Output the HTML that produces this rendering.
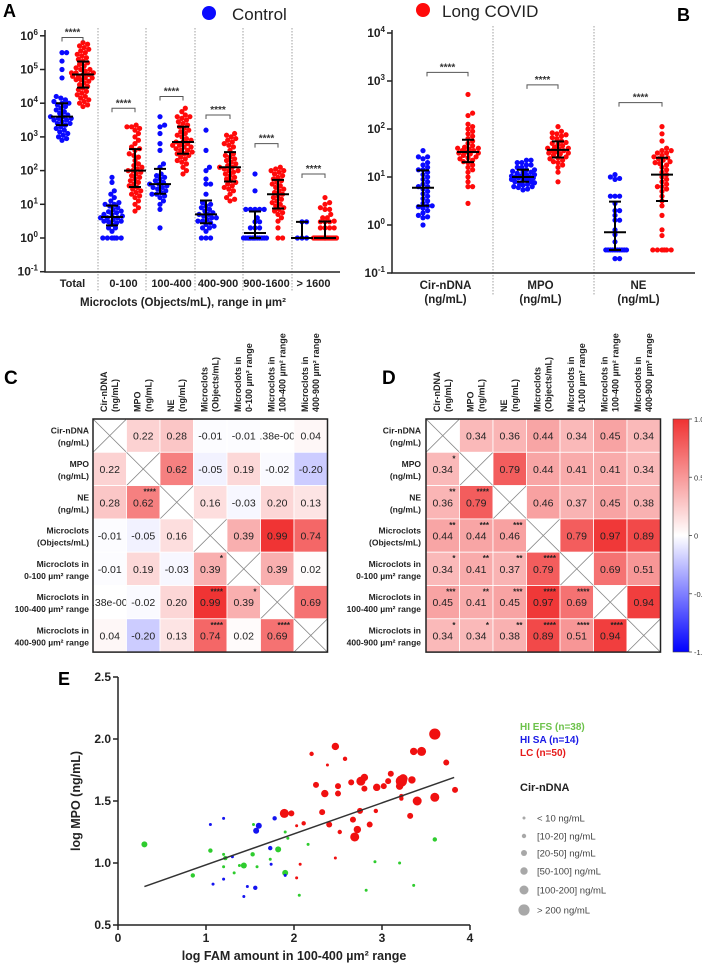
<!DOCTYPE html>
<html><head><meta charset="utf-8"><style>
html,body{margin:0;padding:0;background:#fff;}
svg{display:block;font-family:"Liberation Sans",Arial,sans-serif;}
</style></head><body>
<svg id="fig" width="702" height="966" viewBox="0 0 702 966" xmlns="http://www.w3.org/2000/svg">
<defs>
<linearGradient id="cbar" x1="0" y1="0" x2="0" y2="1">
<stop offset="0" stop-color="#f03232"/><stop offset="0.5" stop-color="#ffffff"/><stop offset="1" stop-color="#0000ff"/>
</linearGradient>
</defs>
<g>
<circle cx="209" cy="13" r="7" fill="#0a0aff"/>
<text x="232" y="20" font-size="17" fill="#222">Control</text>
<circle cx="423" cy="10" r="7" fill="#ff0a0a"/>
<text x="442" y="17" font-size="17" fill="#222">Long COVID</text>
</g>
<text x="3" y="17" font-size="18" font-weight="bold">A</text>
<text x="677" y="21" font-size="18" font-weight="bold">B</text>
<text x="4" y="384" font-size="19" font-weight="bold">C</text>
<text x="382" y="384" font-size="19" font-weight="bold">D</text>
<text x="58" y="685" font-size="18" font-weight="bold">E</text>
</svg>
<script>
// ---------- Panel A data (log10 of objects/mL) ----------
const aCategories = ["Total","0-100","100-400","400-900","900-1600","> 1600"];
const aControl = [
 [5.5,5.5,5.25,5.0,4.75,4.2,4.1,4.15,4.05,4.0,4.0,3.95,3.9,3.85,3.8,3.75,3.7,3.65,3.6,3.6,3.55,3.55,3.5,3.5,3.45,3.4,3.4,3.35,3.3,3.25,3.2,3.15,3.1,3.05,3.0,2.95,2.9],
 [1.8,1.65,1.4,1.3,1.2,1.1,1.05,1.0,1.0,0.95,0.9,0.85,0.8,0.78,0.75,0.7,0.7,0.65,0.6,0.6,0.6,0.55,0.5,0.5,0.48,0.45,0.4,0.3,0.3,0.2,0,0,0,0,0,0],
 [3.6,3.35,3.3,3.1,2.8,2.6,2.2,2.1,1.9,1.85,1.8,1.75,1.7,1.65,1.6,1.6,1.55,1.5,1.5,1.45,1.4,1.35,1.3,1.3,1.25,1.2,1.1,1.0,0.85,0.3],
 [3.2,2.6,2.1,2.0,1.75,1.6,1.6,1.3,1.05,1.0,0.95,0.9,0.85,0.8,0.75,0.7,0.7,0.65,0.6,0.6,0.55,0.5,0.5,0.45,0.4,0.35,0.3,0.3,0.2,0,0,0],
 [1.9,1.4,0.85,0.85,0.85,0.85,0.85,0.6,0.48,0.48,0.3,0.3,0.3,0,0,0,0,0,0,0,0,0,0,0,0,0],
 [0.48,0.48,0,0,0]
];
const aLongCovid = [
 [5.8,5.75,5.7,5.65,5.6,5.55,5.5,5.45,5.4,5.35,5.3,5.25,5.2,5.15,5.1,5.05,5.0,4.95,4.9,4.9,4.85,4.85,4.8,4.8,4.75,4.75,4.7,4.65,4.6,4.55,4.5,4.45,4.4,4.35,4.3,4.25,4.2,4.15,4.1,4.05,4.0,3.95,3.9,4.9,5.0,4.7],
 [3.35,3.3,3.3,3.25,3.2,3.1,3.0,2.9,2.8,2.7,2.65,2.6,2.5,2.45,2.4,2.3,2.2,2.15,2.1,2.05,2.0,2.0,1.95,1.9,1.85,1.8,1.75,1.7,1.65,1.6,1.55,1.5,1.45,1.4,1.35,1.3,1.25,1.2,1.1,1.0,0.9,0.8],
 [3.85,3.75,3.65,3.6,3.6,3.55,3.5,3.45,3.4,3.35,3.3,3.25,3.2,3.15,3.1,3.05,3.0,2.95,2.9,2.85,2.8,2.75,2.7,2.7,2.65,2.6,2.55,2.5,2.45,2.4,2.35,2.3,2.25,2.2,2.1,2.0,1.9,2.75,2.85,2.6,2.5],
 [3.1,3.05,3.0,2.95,2.9,2.85,2.8,2.75,2.7,2.6,2.5,2.45,2.4,2.35,2.3,2.25,2.2,2.15,2.1,2.1,2.05,2.0,2.0,1.95,1.9,1.85,1.8,1.75,1.7,1.65,1.6,1.55,1.5,1.45,1.4,1.3,1.2,1.15,1.1],
 [2.1,2.05,2.0,2.0,1.95,1.9,1.85,1.8,1.75,1.7,1.65,1.6,1.55,1.5,1.45,1.4,1.35,1.3,1.25,1.2,1.15,1.1,1.05,1.0,0.95,0.9,0.85,0.8,0.75,0.7,0.6,0.5,0.3,0,0],
 [1.2,1.05,1.0,0.9,0.85,0.85,0.7,0.6,0.6,0.5,0.48,0.48,0.48,0.3,0.3,0.3,0.3,0,0,0,0,0,0,0,0,0,0,0,0,0,0,0,0,0,0,0,0,0,0]
];
const aTickExps = [-1,0,1,2,3,4,5,6];
const aSigLevels = [5.95,3.85,4.2,3.65,2.8,1.9];
// ---------- Panel B data (log10 ng/mL) ----------
const bCategories = [["Cir-nDNA","(ng/mL)"],["MPO","(ng/mL)"],["NE","(ng/mL)"]];
const bControl = [
 [1.55,1.42,1.42,1.38,1.3,1.25,1.2,1.15,1.15,1.1,1.05,1.0,0.95,0.9,0.85,0.8,0.8,0.75,0.7,0.65,0.6,0.55,0.5,0.45,0.4,0.4,0.38,0.35,0.3,0.25,0.2,0.17,0.15,0.0],
 [1.35,1.35,1.3,1.3,1.25,1.25,1.2,1.2,1.15,1.15,1.12,1.1,1.1,1.08,1.05,1.05,1.02,1.02,1.0,1.0,1.0,0.98,0.98,0.95,0.95,0.93,0.9,0.9,0.88,0.85,0.85,0.83,0.8,0.8,0.78,0.75,0.73],
 [1.05,1.0,0.97,0.95,0.6,0.6,0.6,0.45,0.3,0.3,0.2,0.1,0.1,-0.1,-0.2,-0.35,-0.52,-0.52,-0.52,-0.52,-0.52,-0.52,-0.52,-0.52,-0.52,-0.52,-0.7,-0.7]
];
const bLongCovid = [
 [2.72,2.33,2.28,2.1,2.05,2.0,1.95,1.9,1.85,1.8,1.75,1.7,1.65,1.62,1.6,1.6,1.58,1.55,1.55,1.52,1.5,1.5,1.48,1.45,1.42,1.4,1.38,1.35,1.32,1.3,1.25,1.2,1.15,1.1,1.0,0.9,0.8,0.8,0.45],
 [2.05,1.95,1.92,1.9,1.88,1.85,1.82,1.8,1.75,1.72,1.7,1.68,1.65,1.62,1.6,1.6,1.58,1.55,1.55,1.52,1.5,1.5,1.48,1.45,1.42,1.4,1.38,1.35,1.32,1.3,1.25,1.2,1.1,0.9],
 [2.05,1.9,1.75,1.6,1.55,1.55,1.5,1.5,1.45,1.42,1.4,1.38,1.35,1.32,1.3,1.28,1.25,1.2,1.15,1.1,1.05,1.0,0.95,0.9,0.85,0.8,0.8,0.75,0.7,0.6,0.5,0.4,0.2,-0.1,-0.22,-0.52,-0.52,-0.52,-0.52,-0.52,-0.52]
];
const bTickExps = [-1,0,1,2,3,4];
const bSigLevels = [3.18,2.92,2.55];
// ---------- Panels C / D ----------
const corrLabels = [["Cir-nDNA","(ng/mL)"],["MPO","(ng/mL)"],["NE","(ng/mL)"],["Microclots","(Objects/mL)"],["Microclots in","0-100 µm² range"],["Microclots in","100-400 µm² range"],["Microclots in","400-900 µm² range"]];
const corrC = [
 [null,0.22,0.28,-0.01,-0.01,3.38e-5,0.04],
 [0.22,null,0.62,-0.05,0.19,-0.02,-0.20],
 [0.28,0.62,null,0.16,-0.03,0.20,0.13],
 [-0.01,-0.05,0.16,null,0.39,0.99,0.74],
 [-0.01,0.19,-0.03,0.39,null,0.39,0.02],
 [3.38e-5,-0.02,0.20,0.99,0.39,null,0.69],
 [0.04,-0.20,0.13,0.74,0.02,0.69,null]
];
const starsC = [
 ["","","","","","",""],["","","","","","",""],["","****","","","","",""],["","","","","","",""],
 ["","","","*","","",""],["","","","****","*","",""],["","","","****","","****",""]
];
const corrD = [
 [null,0.34,0.36,0.44,0.34,0.45,0.34],
 [0.34,null,0.79,0.44,0.41,0.41,0.34],
 [0.36,0.79,null,0.46,0.37,0.45,0.38],
 [0.44,0.44,0.46,null,0.79,0.97,0.89],
 [0.34,0.41,0.37,0.79,null,0.69,0.51],
 [0.45,0.41,0.45,0.97,0.69,null,0.94],
 [0.34,0.34,0.38,0.89,0.51,0.94,null]
];
const starsD = [
 ["","","","","","",""],["*","","","","","",""],["**","****","","","","",""],["**","***","***","","","",""],
 ["*","**","**","****","","",""],["***","**","***","****","****","",""],["*","*","**","****","****","****",""]
];
const cbarTicks = [1.0,0.5,0,-0.5,-1.0];
// ---------- Panel E ----------
const eGroups = ["HI EFS (n=38)","HI SA (n=14)","LC (n=50)"];
const eX_efs = [0.3,0.85,1.05,1.2,1.22,1.2,1.32,1.38,1.43,1.53,1.54,1.58,1.73,1.82,1.9,1.9,1.93,2.06,2.16,2.82,2.92,3.2,3.36,3.6];
const eY_efs = [1.15,0.9,1.1,1.07,1.04,0.97,0.92,0.98,0.98,1.07,1.31,0.97,1.03,1.11,1.25,0.92,1.2,0.74,1.15,0.78,1.01,1.0,0.82,1.19];
const eS_efs = [2,1,1,0,1,0,0,0,2,1,0,0,0,2,0,2,0,0,0,0,0,0,0,1];
const eX_sa = [1.05,1.08,1.2,1.2,1.3,1.43,1.47,1.56,1.57,1.6,1.73,1.74,1.78,1.9];
const eY_sa = [1.31,0.83,1.36,0.87,1.05,0.73,0.81,0.8,1.26,1.3,1.12,0.99,1.36,0.9];
const eS_sa = [0,0,0,0,0,0,0,1,2,2,1,0,1,0];
const eX_lc = [1.89,1.97,2.03,2.03,2.07,2.11,2.2,2.25,2.32,2.35,2.38,2.4,2.47,2.47,2.5,2.5,2.52,2.58,2.65,2.67,2.69,2.72,2.75,2.76,2.8,2.8,2.86,2.93,2.94,3.02,3.07,3.1,3.2,3.22,3.24,3.22,3.22,3.32,3.34,3.36,3.4,3.45,3.6,3.6,3.73,3.83];
const eY_lc = [1.4,1.4,1.3,0.88,0.99,1.32,1.88,1.63,1.41,1.56,1.79,1.31,1.94,1.04,1.56,1.62,1.25,1.84,1.65,1.35,1.21,1.27,1.42,1.66,1.69,1.6,1.31,1.42,1.61,1.62,1.66,1.72,1.62,1.66,1.68,1.52,1.54,1.38,1.67,1.9,1.5,1.9,2.04,1.53,1.81,1.59];
const eS_lc = [4,2,0,0,0,1,1,2,2,3,0,2,3,0,2,2,1,1,2,2,4,3,2,4,3,2,2,1,3,2,2,2,3,5,4,1,1,2,3,3,4,4,5,4,2,2];
const fitX = [0.3,3.82];
const fitY = [0.81,1.69];
const sizeLabels = ["< 10 ng/mL","[10-20] ng/mL","[20-50] ng/mL","[50-100] ng/mL","[100-200] ng/mL","> 200 ng/mL"];
const eXTicks = [0,1,2,3,4];
const eYTicks = [0.5,1.0,1.5,2.0,2.5];

const svg = document.getElementById('fig');
const NS = "http://www.w3.org/2000/svg";
function mk(tag, attrs, parent){ const e=document.createElementNS(NS,tag); for(const k in attrs) e.setAttribute(k,attrs[k]); (parent||svg).appendChild(e); return e; }
const BLUE="#0a0aff", RED="#ff0a0a";

function quant(arr,p){ const s=[...arr].sort((a,b)=>a-b); const i=(s.length-1)*p; const lo=Math.floor(i), hi=Math.ceil(i); return s[lo]+(s[hi]-s[lo])*(i-lo); }

function swarm(g, vals, cx, yfn, color, r, name){
  const placed=[];
  const sorted=[...vals].sort((a,b)=>a-b);
  const maxOff=12.5, minD=2*r-0.9;
  sorted.forEach(v=>{
    const y=yfn(v); let best=cx, bestD=-1;
    for(let k=0;k<=22;k++){
      const off=(k%2?1:-1)*Math.ceil(k/2)*1.15;
      if(Math.abs(off)>maxOff) continue;
      const tx=cx+off;
      let d=Infinity; placed.forEach(p=>{ d=Math.min(d,Math.hypot(p[0]-tx,p[1]-y)); });
      if(d>=minD){best=tx;bestD=d;break;}
      if(d>bestD){bestD=d;best=tx;}
    }
    placed.push([best,y]);
    const c=mk('circle',{cx:best.toFixed(2),cy:y.toFixed(2),r:r,fill:color},g);
    
    
  });
}
function errbar(g, vals, cx, yfn, name){
  const med=quant(vals,0.5), q1=quant(vals,0.25), q3=quant(vals,0.75);
  const y1=yfn(q1), y3=yfn(q3), ym=yfn(med);
  const p=mk('path',{d:`M${cx},${y3}V${y1}M${cx-6},${y3}H${cx+6}M${cx-6},${y1}H${cx+6}M${cx-11},${ym}H${cx+11}`,stroke:"#000","stroke-width":2,fill:"none"},g);
  
  
}
function sig(g, x1, x2, y, name){
  const p=mk('path',{d:`M${x1},${y+4}V${y}H${x2}V${y+4}`,stroke:"#555","stroke-width":1,fill:"none"},g);
  
  
  const t=mk('text',{x:(x1+x2)/2,y:y-2,"text-anchor":"middle","font-size":10,"font-weight":"bold",fill:"#333"},g);
  t.textContent="****";
  
  
}
function powLabel(g, x, y, e, name){
  const t=mk('text',{x:x,y:y,"text-anchor":"end","font-size":12,"font-weight":"bold",fill:"#222"},g);
  const a=document.createElementNS(NS,'tspan'); a.textContent="10"; t.appendChild(a);
  const b=document.createElementNS(NS,'tspan'); b.setAttribute('dy','-5'); b.setAttribute('font-size','8'); b.textContent=String(e); t.appendChild(b);
  
  
}

// ---------- Panel A ----------
(function(){
  const g=mk('g',{});  
  const yA=v=>238-v*33.7;
  const blueX=[62,112,160,206,255,302], redX=[83,135,183,230,278,325];
  const divX=[98,146,195,243,292];
  divX.forEach(x=>{ const l=mk('line',{x1:x,y1:28,x2:x,y2:292,stroke:"#888","stroke-width":0.8,"stroke-dasharray":"1.5,1.5"},g);
      });
  const ax=mk('path',{d:"M45,30V272H340",stroke:"#222","stroke-width":1.5,fill:"none"},g);
   
  aTickExps.forEach(e=>{ const y=yA(e);
    const t=mk('line',{x1:40,y1:y,x2:45,y2:y,stroke:"#222","stroke-width":1.5},g);
     
    powLabel(g,38,y+4,e,'y-tick-label'); });
  aCategories.forEach((c,i)=>{
    swarm(g,aControl[i],blueX[i],yA,BLUE,2.6,'control-point');
    swarm(g,aLongCovid[i],redX[i],yA,RED,2.6,'long-covid-point');
    errbar(g,aControl[i],blueX[i],yA,'control-median-iqr');
    errbar(g,aLongCovid[i],redX[i],yA,'long-covid-median-iqr');
    sig(g,blueX[i],redX[i],yA(aSigLevels[i]),'significance-bracket');
    const cx=(blueX[i]+redX[i])/2;
    const t=mk('text',{x:cx,y:287,"text-anchor":"middle","font-size":11,"font-weight":"bold",fill:"#222"},g);
    t.textContent=c;  
  });
  const xt=mk('text',{x:183,y:306,"text-anchor":"middle","font-size":11.5,"font-weight":"bold",fill:"#222"},g);
  xt.textContent="Microclots (Objects/mL), range in µm²";
   
})();

// ---------- Panel B ----------
(function(){
  const g=mk('g',{});  
  const yB=v=>225-v*48;
  const blueX=[423,523,615], redX=[468,558,662];
  [493,594].forEach(x=>{ const l=mk('line',{x1:x,y1:26,x2:x,y2:296,stroke:"#888","stroke-width":0.8,"stroke-dasharray":"1.5,1.5"},g);
      });
  const ax=mk('path',{d:"M392,30V273H695",stroke:"#222","stroke-width":1.5,fill:"none"},g);
   
  bTickExps.forEach(e=>{ const y=yB(e);
    const t=mk('line',{x1:387,y1:y,x2:392,y2:y,stroke:"#222","stroke-width":1.5},g);
     
    powLabel(g,385,y+4,e,'y-tick-label'); });
  bCategories.forEach((c,i)=>{
    swarm(g,bControl[i],blueX[i],yB,BLUE,2.6,'control-point');
    swarm(g,bLongCovid[i],redX[i],yB,RED,2.6,'long-covid-point');
    errbar(g,bControl[i],blueX[i],yB,'control-median-iqr');
    errbar(g,bLongCovid[i],redX[i],yB,'long-covid-median-iqr');
    sig(g,blueX[i]+4,redX[i],yB(bSigLevels[i]),'significance-bracket');
    const cx=(blueX[i]+redX[i])/2;
    c.forEach((ln,j)=>{ const t=mk('text',{x:cx,y:289+j*14,"text-anchor":"middle","font-size":11.5,"font-weight":"bold",fill:"#222"},g);
      t.textContent=ln;   });
  });
})();

// ---------- Correlation matrices ----------
function cellColor(v){
  if(v>=0){ const k=Math.min(v,1); return `rgb(${Math.round(255-k*15)},${Math.round(255-k*205)},${Math.round(255-k*205)})`; }
  const k=Math.min(-v,1); return `rgb(${Math.round(255-k*255)},${Math.round(255-k*255)},255)`;
}
function fmt(v){ if(Math.abs(v)<0.005 && v!==0) return v.toExponential(2).replace('e-5','e-005'); return v.toFixed(2); }
function matrix(x0, vals, stars, labelRight, name){
  const g=mk('g',{});  
  const w=33.5, h=33.3, y0=419;
  vals.forEach((row,i)=>row.forEach((v,j)=>{
    const x=x0+j*w, y=y0+i*h;
    const r=mk('rect',{x:x,y:y,width:w,height:h,fill:v===null?"#fff":cellColor(v),stroke:"#fff","stroke-width":0.8},g);
     
    if(v===null){
      const p=mk('path',{d:`M${x},${y}L${x+w},${y+h}M${x+w},${y}L${x},${y+h}`,stroke:"#888","stroke-width":0.8},g);
       
    } else {
      const cp=mk('clipPath',{id:`cp-${name}-${i}-${j}`},g); mk('rect',{x:x,y:y,width:w,height:h},cp);
      const t=mk('text',{x:x+w/2,y:y+h/2+4,"text-anchor":"middle","font-size":10.5,fill:"#222","clip-path":`url(#cp-${name}-${i}-${j})`},g);
      t.textContent=fmt(v);  
      if(stars[i][j]){ const s=mk('text',{x:x+w-4,y:y+9,"text-anchor":"end","font-size":8,"font-weight":"bold",fill:"#222"},g);
        s.textContent=stars[i][j];   }
    }
  }));
  const b=mk('rect',{x:x0,y:y0,width:7*w,height:7*h,fill:"none",stroke:"#222","stroke-width":1.5},g);
   
  corrLabels.forEach((lb,k)=>{
    const cx=x0+k*w+w/2;
    lb.forEach((ln,j)=>{ const tx=cx-3+j*11, ty=412;
      const t=mk('text',{x:tx,y:ty,"font-size":9,"font-weight":"bold",fill:"#222",transform:`rotate(-90 ${tx} ${ty})`},g);
      t.textContent=ln;   });
    const cy=y0+k*h+h/2;
    lb.forEach((ln,j)=>{ const t=mk('text',{x:labelRight,y:cy-2+j*12,"text-anchor":"end","font-size":8.5,"font-weight":"bold",fill:"#222"},g);
      t.textContent=ln;   });
  });
}
matrix(93,corrC,starsC,89,'panel-c-matrix');
matrix(426,corrD,starsD,421,'panel-d-matrix');
(function(){
  const g=mk('g',{});  
  const r=mk('rect',{x:673,y:419,width:16,height:233,fill:"url(#cbar)",stroke:"#444","stroke-width":0.6},g);
   
  cbarTicks.forEach(v=>{ const y=535.5-v*116.5;
    const l=mk('line',{x1:689,y1:y,x2:692,y2:y,stroke:"#444","stroke-width":0.8},g);
     
    const t=mk('text',{x:694,y:y+3,"font-size":7.5,fill:"#333"},g);
    t.textContent=v===0?"0":v.toFixed(1);   });
})();

// ---------- Panel E ----------
(function(){
  const g=mk('g',{});  
  const xE=v=>118+v*88, yE=v=>925-(v-0.5)*124;
  const radii=[1.5,2.2,3,3.7,4.5,5.6];
  const ax=mk('path',{d:"M118,677V925H470",stroke:"#222","stroke-width":1.5,fill:"none"},g);
   
  eYTicks.forEach(v=>{ const y=yE(v);
    const l=mk('line',{x1:113,y1:y,x2:118,y2:y,stroke:"#222","stroke-width":1.5},g);
     
    const t=mk('text',{x:111,y:y+4,"text-anchor":"end","font-size":12,"font-weight":"bold",fill:"#222"},g);
    t.textContent=v.toFixed(1);   });
  eXTicks.forEach(v=>{ const x=xE(v);
    const l=mk('line',{x1:x,y1:925,x2:x,y2:930,stroke:"#222","stroke-width":1.5},g);
     
    const t=mk('text',{x:x,y:942,"text-anchor":"middle","font-size":12,"font-weight":"bold",fill:"#222"},g);
    t.textContent=String(v);   });
  const sets=[[eX_efs,eY_efs,eS_efs,"#2ecc2e","hi-efs-point"],[eX_sa,eY_sa,eS_sa,"#1414f0","hi-sa-point"],[eX_lc,eY_lc,eS_lc,"#f01010","lc-point"]];
  sets.forEach(s=>s[0].forEach((x,i)=>{
    const c=mk('circle',{cx:xE(x),cy:yE(s[1][i]),r:radii[s[2][i]],fill:s[3]},g);
    
    
  }));
  const fl=mk('line',{x1:xE(fitX[0]),y1:yE(fitY[0]),x2:xE(fitX[1]),y2:yE(fitY[1]),stroke:"#333","stroke-width":1.5},g);
   
  const yt=mk('text',{x:0,y:0,"text-anchor":"middle","font-size":12.5,"font-weight":"bold",fill:"#222",transform:"translate(80,801) rotate(-90)"},g);
  yt.textContent="log MPO (ng/mL)";  
  const xt=mk('text',{x:294,y:960,"text-anchor":"middle","font-size":12.5,"font-weight":"bold",fill:"#222"},g);
  xt.textContent="log FAM amount in 100-400 µm² range";  
  const gc=["#6cc24a","#1a1ae6","#e61a1a"];
  eGroups.forEach((n,i)=>{ const t=mk('text',{x:520,y:730+i*13,"font-size":10,"font-weight":"bold",fill:gc[i]},g);
    t.textContent=n;   });
  const ct=mk('text',{x:520,y:791,"font-size":11,"font-weight":"bold",fill:"#222"},g);
  ct.textContent="Cir-nDNA";  
  const ly=[818,836,853,871,890,910];
  sizeLabels.forEach((s,i)=>{
    const c=mk('circle',{cx:524,cy:ly[i],r:radii[i],fill:"#a8a8a8"},g);
     
    const t=mk('text',{x:537,y:ly[i]+3.5,"font-size":9.5,fill:"#444"},g);
    t.textContent=s;  
  });
})();
</script>
</body></html>
